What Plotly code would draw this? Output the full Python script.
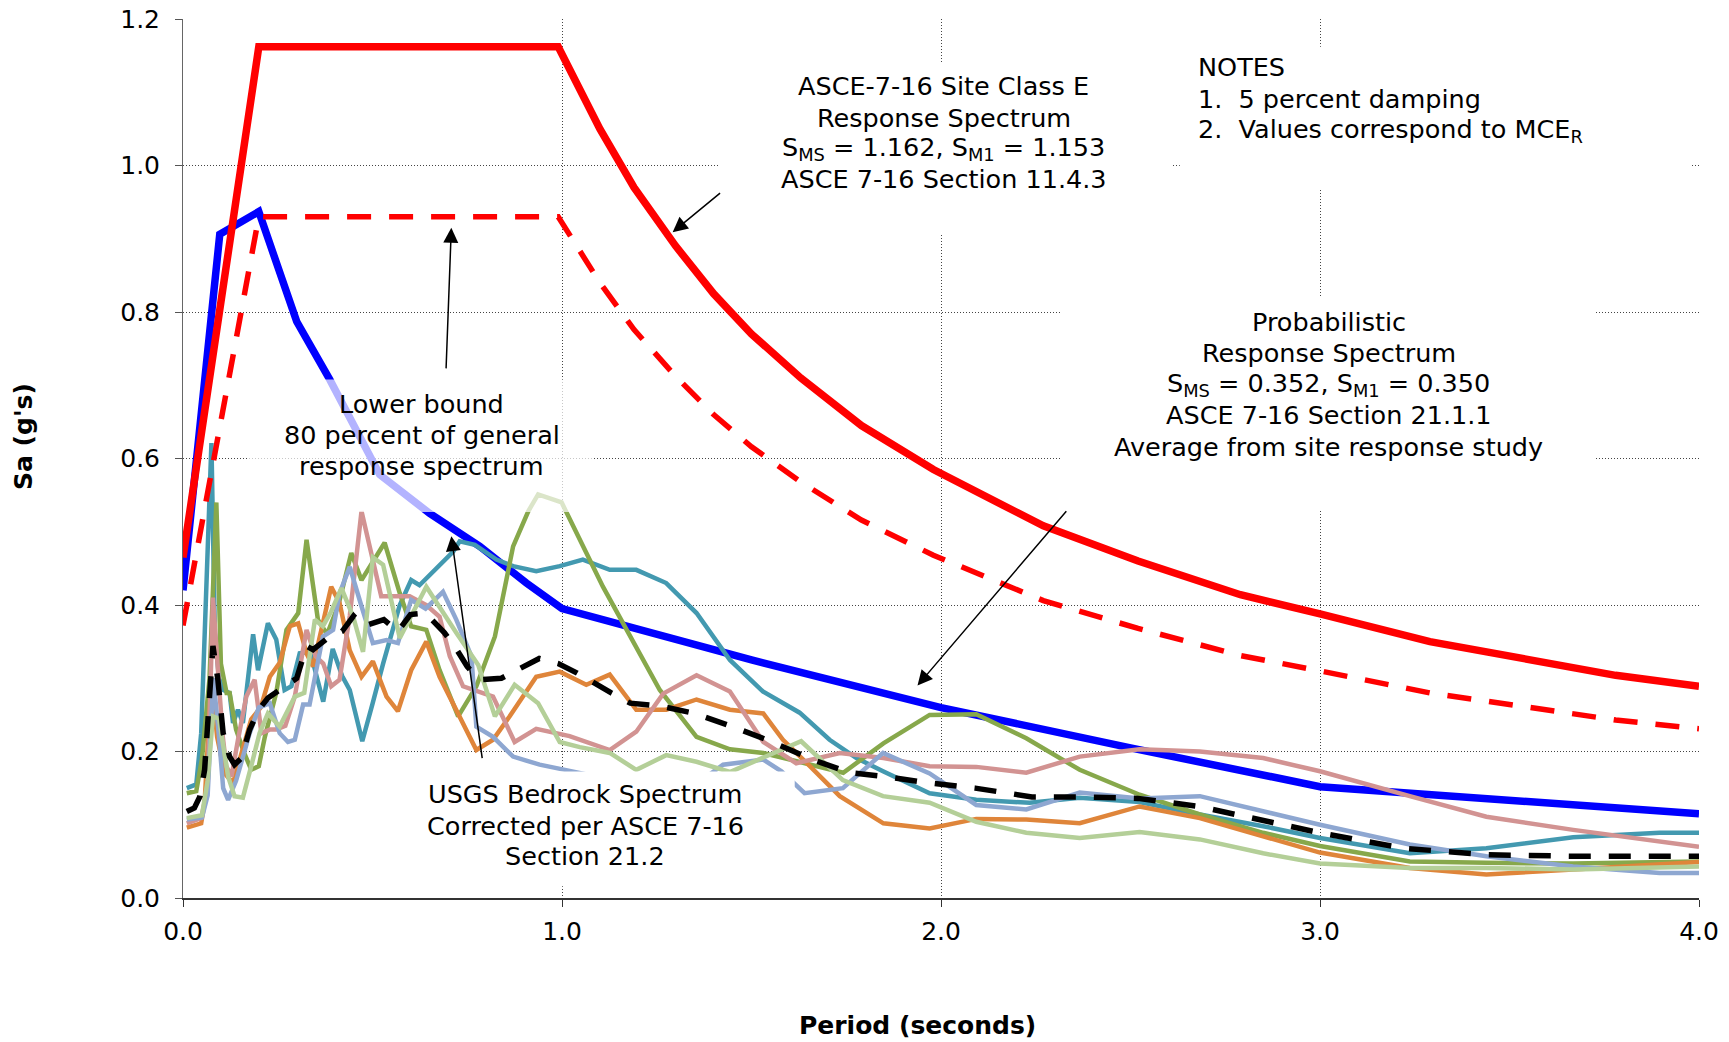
import plotly.graph_objects as go

# ---- General (MCE_R) design spectrum, Site Class E ----
t_general = [0, 0.2, 0.99, 1.1, 1.19, 1.3, 1.4, 1.5, 1.63, 1.79, 1.98, 2.27, 2.52, 2.79, 3.0, 3.29, 3.78, 4.0]
sa_general = [0.465, 1.162, 1.162, 1.05, 0.97, 0.89, 0.825, 0.77, 0.71, 0.645, 0.585, 0.508, 0.46, 0.414, 0.388, 0.35, 0.304, 0.289]
sa_lower_bound = [0.372, 0.93, 0.93, 0.84, 0.776, 0.712, 0.66, 0.616, 0.568, 0.516, 0.468, 0.406, 0.368, 0.331, 0.31, 0.28, 0.243, 0.231]

# ---- Probabilistic spectrum (site response average) ----
t_prob = [0, 0.097, 0.2, 0.3, 0.387, 0.519, 0.651, 0.783, 0.906, 1.0, 1.5, 2.0, 2.5, 3.0, 4.0]
sa_prob = [0.42, 0.906, 0.937, 0.787, 0.708, 0.578, 0.525, 0.48, 0.43, 0.395, 0.325, 0.26, 0.205, 0.152, 0.115]

# ---- Individual site response runs ----
t_teal = [0.01, 0.035, 0.048, 0.065, 0.075, 0.084, 0.095, 0.106, 0.123, 0.132, 0.145, 0.158, 0.172, 0.185, 0.198,
          0.224, 0.246, 0.268, 0.286, 0.308, 0.336, 0.37, 0.395, 0.42, 0.44, 0.473, 0.50, 0.528, 0.572, 0.602,
          0.624, 0.713, 0.73, 0.77, 0.827, 0.871, 0.932, 0.994, 1.055, 1.126, 1.196, 1.275, 1.355, 1.443, 1.53,
          1.627, 1.706, 1.777, 1.847, 1.97, 2.093, 2.234, 2.366, 2.524, 2.683, 2.85, 3.0, 3.237, 3.439, 3.668,
          3.896, 4.0]
sa_teal = [0.150, 0.155, 0.225, 0.45, 0.621, 0.362, 0.30, 0.284, 0.28, 0.239, 0.257, 0.239, 0.307, 0.36, 0.311,
           0.375, 0.353, 0.284, 0.289, 0.334, 0.336, 0.268, 0.34, 0.303, 0.284, 0.214, 0.265, 0.32, 0.40, 0.434,
           0.427, 0.473, 0.487, 0.482, 0.462, 0.453, 0.446, 0.453, 0.462, 0.448, 0.448, 0.43, 0.389, 0.325, 0.282,
           0.253, 0.216, 0.191, 0.173, 0.143, 0.134, 0.130, 0.137, 0.131, 0.114, 0.098, 0.082, 0.061, 0.068, 0.083,
           0.089, 0.089]

t_olive = [0.01, 0.035, 0.05, 0.07, 0.088, 0.10, 0.115, 0.123, 0.14, 0.16, 0.18, 0.20, 0.216, 0.246, 0.273,
           0.304, 0.326, 0.356, 0.38, 0.41, 0.444, 0.471, 0.532, 0.572, 0.602, 0.642, 0.677, 0.726, 0.774, 0.823,
           0.871, 0.911, 0.937, 0.999, 1.108, 1.205, 1.258, 1.355, 1.443, 1.531, 1.636, 1.742, 1.848, 1.97, 2.093,
           2.225, 2.366, 2.524, 2.683, 2.85, 3.0, 3.237, 3.439, 3.668, 4.0]
sa_olive = [0.143, 0.146, 0.19, 0.30, 0.54, 0.32, 0.28, 0.28, 0.23, 0.2, 0.175, 0.18, 0.22, 0.28, 0.366,
            0.389, 0.489, 0.38, 0.36, 0.40, 0.471, 0.434, 0.485, 0.416, 0.371, 0.366, 0.311, 0.248, 0.289, 0.357,
            0.48, 0.528, 0.551, 0.54, 0.425, 0.334, 0.284, 0.22, 0.203, 0.198, 0.184, 0.171, 0.211, 0.25, 0.251,
            0.218, 0.175, 0.141, 0.114, 0.089, 0.071, 0.05, 0.048, 0.047, 0.05]

t_orange = [0.01, 0.048, 0.057, 0.075, 0.09, 0.11, 0.132, 0.155, 0.18, 0.205, 0.229, 0.255, 0.282, 0.304, 0.326,
            0.343, 0.369, 0.391, 0.413, 0.44, 0.471, 0.501, 0.537, 0.567, 0.602, 0.642, 0.677, 0.73, 0.774, 0.818,
            0.862, 0.932, 0.994, 1.064, 1.126, 1.196, 1.275, 1.355, 1.443, 1.531, 1.583, 1.654, 1.733, 1.848, 1.97,
            2.093, 2.225, 2.366, 2.524, 2.683, 2.85, 3.0, 3.237, 3.439, 3.668, 4.0]
sa_orange = [0.096, 0.102, 0.13, 0.30, 0.22, 0.17, 0.157, 0.20, 0.244, 0.26, 0.302, 0.321, 0.371, 0.375, 0.334,
             0.316, 0.375, 0.425, 0.403, 0.338, 0.302, 0.323, 0.275, 0.255, 0.311, 0.35, 0.302, 0.248, 0.202, 0.216,
             0.248, 0.302, 0.309, 0.291, 0.305, 0.257, 0.257, 0.271, 0.257, 0.252, 0.216, 0.18, 0.139, 0.102, 0.095,
             0.108, 0.107, 0.102, 0.125, 0.109, 0.084, 0.062, 0.041, 0.032, 0.039, 0.049]

t_rose = [0.01, 0.048, 0.065, 0.079, 0.092, 0.105, 0.114, 0.128, 0.145, 0.167, 0.189, 0.207, 0.23, 0.246, 0.27,
          0.295, 0.326, 0.35, 0.37, 0.391, 0.413, 0.44, 0.471, 0.523, 0.598, 0.642, 0.677, 0.704, 0.739, 0.818,
          0.875, 0.932, 1.02, 1.126, 1.196, 1.267, 1.355, 1.443, 1.531, 1.618, 1.733, 1.848, 1.97, 2.093, 2.225,
          2.366, 2.524, 2.683, 2.85, 3.0, 3.237, 3.439, 3.668, 4.0]
sa_rose = [0.102, 0.109, 0.15, 0.41, 0.312, 0.22, 0.18, 0.166, 0.216, 0.275, 0.298, 0.225, 0.23, 0.23, 0.235,
           0.275, 0.366, 0.33, 0.32, 0.289, 0.298, 0.385, 0.528, 0.412, 0.412, 0.40, 0.384, 0.33, 0.289, 0.275,
           0.213, 0.231, 0.221, 0.202, 0.227, 0.279, 0.304, 0.282, 0.213, 0.184, 0.198, 0.191, 0.18, 0.179, 0.171,
           0.193, 0.203, 0.2, 0.191, 0.173, 0.139, 0.111, 0.093, 0.07]

t_slate = [0.01, 0.05, 0.065, 0.08, 0.095, 0.106, 0.119, 0.14, 0.176, 0.2, 0.229, 0.255, 0.277, 0.295, 0.317,
           0.334, 0.369, 0.396, 0.413, 0.44, 0.47, 0.501, 0.537, 0.567, 0.602, 0.64, 0.686, 0.721, 0.761, 0.774,
           0.818, 0.871, 0.941, 1.02, 1.1, 1.2, 1.3, 1.38, 1.425, 1.531, 1.579, 1.64, 1.741, 1.847, 1.97, 2.093,
           2.225, 2.366, 2.524, 2.683, 2.85, 3.0, 3.237, 3.439, 3.668, 3.896, 4.0]
sa_slate = [0.107, 0.11, 0.14, 0.30, 0.22, 0.15, 0.134, 0.16, 0.225, 0.26, 0.266, 0.225, 0.213, 0.216, 0.264,
            0.264, 0.357, 0.366, 0.416, 0.452, 0.40, 0.348, 0.352, 0.348, 0.407, 0.395, 0.418, 0.38, 0.33, 0.234,
            0.22, 0.193, 0.182, 0.173, 0.165, 0.16, 0.158, 0.165, 0.182, 0.189, 0.173, 0.143, 0.15, 0.198, 0.17,
            0.127, 0.121, 0.144, 0.136, 0.139, 0.118, 0.1, 0.073, 0.057, 0.043, 0.034, 0.034]

t_sage = [0.01, 0.05, 0.065, 0.079, 0.095, 0.119, 0.136, 0.158, 0.18, 0.202, 0.224, 0.255, 0.295, 0.32, 0.348,
          0.369, 0.39, 0.418, 0.449, 0.475, 0.501, 0.528, 0.572, 0.642, 0.721, 0.779, 0.823, 0.875, 0.937, 0.994,
          1.047, 1.126, 1.196, 1.275, 1.355, 1.443, 1.631, 1.741, 1.847, 1.97, 2.093, 2.225, 2.366, 2.524, 2.683,
          2.85, 3.0, 3.237, 3.439, 3.668, 4.0]
sa_sage = [0.109, 0.113, 0.16, 0.248, 0.245, 0.166, 0.139, 0.137, 0.18, 0.225, 0.252, 0.234, 0.275, 0.28, 0.38,
           0.371, 0.39, 0.423, 0.384, 0.336, 0.465, 0.455, 0.355, 0.425, 0.362, 0.318, 0.248, 0.291, 0.266, 0.213,
           0.206, 0.198, 0.175, 0.195, 0.186, 0.172, 0.214, 0.161, 0.139, 0.13, 0.104, 0.089, 0.082, 0.09, 0.08,
           0.061, 0.047, 0.041, 0.041, 0.039, 0.043]

# ---- USGS bedrock spectrum (corrected) ----
t_bedrock = [0.01, 0.03, 0.045, 0.057, 0.079, 0.092, 0.106, 0.123, 0.136, 0.154, 0.176, 0.2, 0.224, 0.26, 0.3,
             0.326, 0.343, 0.387, 0.42, 0.45, 0.475, 0.53, 0.567, 0.6, 0.64, 0.69, 0.72, 0.75, 0.78, 0.84, 0.88,
             0.94, 0.99, 1.04, 1.13, 1.18, 1.26, 1.35, 1.45, 1.55, 1.66, 1.76, 1.85, 1.97, 2.09, 2.24, 2.37, 2.52,
             2.68, 2.85, 3.0, 3.22, 3.44, 3.67, 3.9, 4.0]
sa_bedrock = [0.118, 0.123, 0.139, 0.175, 0.344, 0.298, 0.225, 0.193, 0.182, 0.191, 0.23, 0.257, 0.273, 0.285, 0.30,
              0.344, 0.339, 0.357, 0.364, 0.385, 0.371, 0.38, 0.364, 0.387, 0.389, 0.362, 0.341, 0.316, 0.298, 0.30,
              0.311, 0.327, 0.32, 0.307, 0.28, 0.266, 0.262, 0.252, 0.234, 0.214, 0.189, 0.171, 0.166, 0.157, 0.15,
              0.138, 0.138, 0.136, 0.125, 0.105, 0.089, 0.068, 0.059, 0.057, 0.057, 0.057]

x_ticks = [0.0, 1.0, 2.0, 3.0, 4.0]
y_ticks = [0.0, 0.2, 0.4, 0.6, 0.8, 1.0, 1.2]

FONT = "DejaVu Sans"

runs = [
    (t_teal, sa_teal, "#4399B0"),
    (t_olive, sa_olive, "#87A84B"),
    (t_orange, sa_orange, "#DF853A"),
    (t_rose, sa_rose, "#D29392"),
    (t_slate, sa_slate, "#8EA7D1"),
    (t_sage, sa_sage, "#B4CF98"),
]

fig = go.Figure()

fig.add_trace(go.Scatter(x=t_prob, y=sa_prob, mode="lines",
                         line=dict(color="#0000FF", width=7.5), showlegend=False))
for t, sa, col in runs:
    fig.add_trace(go.Scatter(x=t, y=sa, mode="lines",
                             line=dict(color=col, width=4.5), showlegend=False))
fig.add_trace(go.Scatter(x=t_bedrock, y=sa_bedrock, mode="lines",
                         line=dict(color="black", width=5.5, dash="22px,18px"), showlegend=False))
fig.add_trace(go.Scatter(x=t_general, y=sa_general, mode="lines",
                         line=dict(color="#FF0000", width=7.5), showlegend=False))
fig.add_trace(go.Scatter(x=t_general, y=sa_lower_bound, mode="lines",
                         line=dict(color="#FF0000", width=5.5, dash="24px,18px"), showlegend=False))

# white text boxes laid over the plot area
boxes = [
    (1.416, 2.609, 0.908, 1.140, "rgba(255,255,255,1)"),   # general spectrum label
    (2.63, 3.978, 0.967, 1.162, "rgba(255,255,255,1)"),    # notes
    (2.316, 3.727, 0.530, 0.820, "rgba(255,255,255,1)"),   # probabilistic label
    (0.173, 1.083, 0.527, 0.708, "rgba(255,255,255,0.7)"), # lower bound label
    (0.62, 1.614, 0.016, 0.1727, "rgba(255,255,255,1)"),   # bedrock label
]
for x0, x1, y0, y1, fill in boxes:
    fig.add_shape(type="rect", xref="x", yref="y", x0=x0, x1=x1, y0=y0, y1=y1,
                  fillcolor=fill, line=dict(width=0), layer="above")

txt = dict(family=FONT, size=25.5, color="black")

# text blocks, one annotation per line: (x, [(y, text), ...], anchor)
blocks = [
    (2.007, [(1.109, "ASCE-7-16 Site Class E"),
             (1.0653, "Response Spectrum"),
             (1.0231, "S<sub>MS</sub> = 1.162, S<sub>M1</sub> = 1.153"),
             (0.981, "ASCE 7-16 Section 11.4.3")], "center"),
    (3.023, [(0.7868, "Probabilistic"),
             (0.7446, "Response Spectrum"),
             (0.701, "S<sub>MS</sub> = 0.352, S<sub>M1</sub> = 0.350"),
             (0.6588, "ASCE 7-16 Section 21.1.1"),
             (0.6152, "Average from site response study")], "center"),
    (0.63, [(0.6739, "Lower bound"),
            (0.6317, "80 percent of general"),
            (0.5896, "response spectrum")], "center"),
    (1.061, [(0.1424, "USGS Bedrock Spectrum"),
             (0.0988, "Corrected per ASCE 7-16"),
             (0.0567, "Section 21.2")], "center"),
    (2.672, [(1.1345, "NOTES"),
             (1.0909, "1.\u00a0\u00a05 percent damping"),
             (1.0472, "2.\u00a0\u00a0Values correspond to MCE<sub>R</sub>")], "left"),
]
for x, lines, anchor in blocks:
    for y, s in lines:
        fig.add_annotation(x=x, y=y, xref="x", yref="y", text=s, showarrow=False,
                           font=txt, xanchor=anchor, yanchor="middle")

# pointer arrows (head, tail)
arrows = [
    (1.292, 0.909, 1.421, 0.964),
    (0.708, 0.915, 0.694, 0.721),
    (1.938, 0.290, 2.334, 0.530),
    (0.708, 0.494, 0.790, 0.189),
]
for hx, hy, tx, ty in arrows:
    fig.add_annotation(x=hx, y=hy, ax=tx, ay=ty, xref="x", yref="y", axref="x", ayref="y",
                       text="", showarrow=True, arrowhead=2, arrowsize=2, arrowwidth=1.5,
                       arrowcolor="black", standoff=0)

# axis titles
title_font = dict(family=FONT, size=25, color="black")
fig.add_annotation(x=0.4842, y=-0.1445, xref="paper", yref="paper", text="<b>Period (seconds)</b>",
                   showarrow=False, font=title_font, xanchor="center", yanchor="middle")
fig.add_annotation(x=-0.1049, y=0.5256, xref="paper", yref="paper", text="<b>Sa (g's)</b>",
                   showarrow=False, font=title_font, textangle=-90, xanchor="center", yanchor="middle")

tick_font = dict(family=FONT, size=25, color="black")
grid = dict(showgrid=True, gridcolor="#444444", gridwidth=1, griddash="1px,2px")
fig.update_xaxes(range=[0, 4], tickvals=x_ticks, ticktext=[f"{v:.1f}" for v in x_ticks],
                 ticks="outside", ticklen=7, tickcolor="#333", showline=True, linecolor="#333",
                 linewidth=2, zeroline=False, tickfont=tick_font, ticklabelstandoff=3,
                 automargin=False, ticklabeloverflow="allow", **grid)
fig.update_yaxes(range=[0, 1.2], tickvals=y_ticks, ticktext=[f"{v:.1f}" for v in y_ticks],
                 ticks="outside", ticklen=7, tickcolor="#555", showline=True, linecolor="#666",
                 linewidth=1, zeroline=False, tickfont=tick_font, ticklabelstandoff=10,
                 automargin=False, ticklabeloverflow="allow", **grid)

fig.update_layout(width=1729, height=1042, margin=dict(l=183, r=30, t=19, b=144),
                  paper_bgcolor="white", plot_bgcolor="white", font=dict(family=FONT),
                  showlegend=False)

fig.write_html("out.html")
